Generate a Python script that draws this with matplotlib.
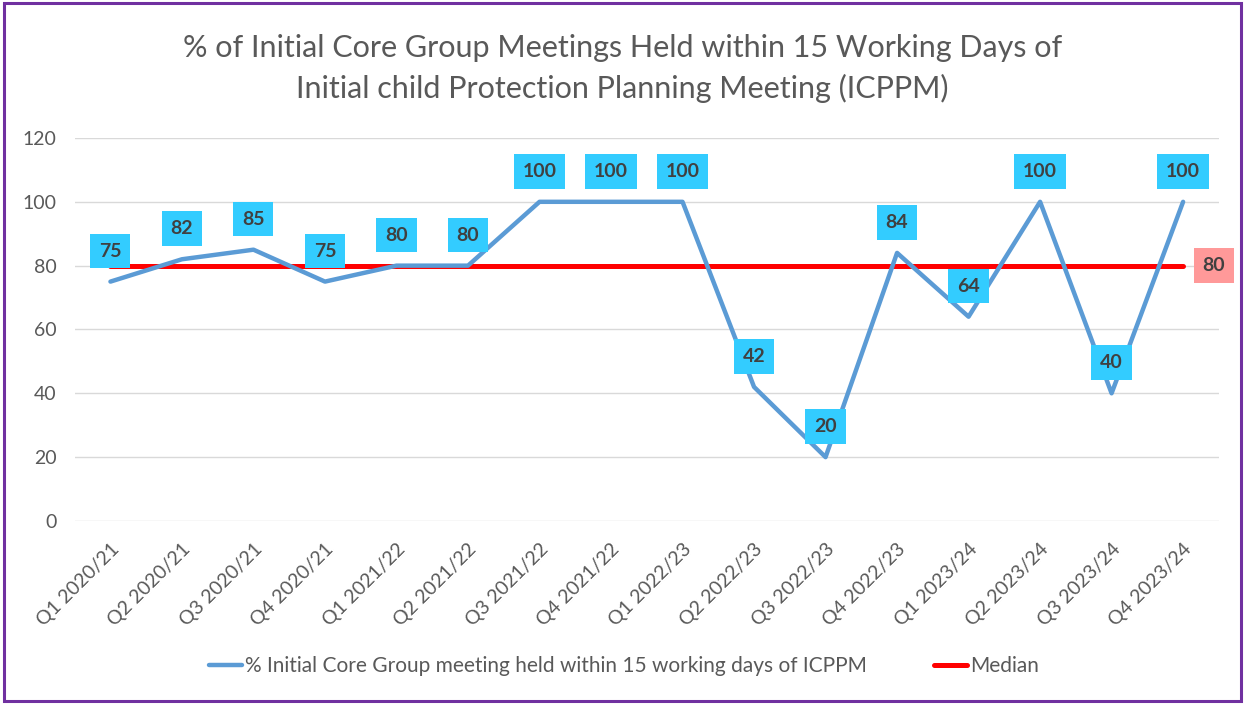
import matplotlib.pyplot as plt
from matplotlib.patches import Rectangle

quarters = ['Q1 2020/21', 'Q2 2020/21', 'Q3 2020/21', 'Q4 2020/21',
            'Q1 2021/22', 'Q2 2021/22', 'Q3 2021/22', 'Q4 2021/22',
            'Q1 2022/23', 'Q2 2022/23', 'Q3 2022/23', 'Q4 2022/23',
            'Q1 2023/24', 'Q2 2023/24', 'Q3 2023/24', 'Q4 2023/24']
pct_held = [75, 82, 85, 75, 80, 80, 100, 100, 100, 42, 20, 84, 64, 100, 40, 100]
median = [80] * len(quarters)

plt.rcParams['font.family'] = ['Lato', 'DejaVu Sans']

fig = plt.figure(figsize=(12.45, 7.04), dpi=100)
ax = fig.add_axes([0.060, 0.26, 0.919, 0.544])

x = list(range(len(quarters)))
ax.plot(x, pct_held, color='#5B9BD5', lw=3.2, solid_capstyle='round',
        label='% Initial Core Group meeting held within 15 working days of ICPPM', zorder=3)
ax.plot(x, median, color='#FF0000', lw=3.6, solid_capstyle='round',
        label='Median', zorder=2)

for xi, v in zip(x, pct_held):
    ax.annotate(str(v), (xi, v), xytext=(0, 22), textcoords='offset points',
                ha='center', va='center', fontsize=14, fontweight='bold',
                color='#404040', zorder=5,
                bbox=dict(boxstyle='square,pad=0.45', fc='#33CCFF', ec='none'))

ax.annotate(str(median[-1]), (x[-1], median[-1]), xytext=(22, 0),
            textcoords='offset points', ha='center', va='center',
            fontsize=14, fontweight='bold', color='#404040', zorder=5,
            bbox=dict(boxstyle='square,pad=0.45', fc='#FF9999', ec='none'))

ax.set_xlim(-0.5, len(quarters) - 0.5)
ax.set_ylim(0, 120)
ax.set_yticks(range(0, 121, 20))
ax.set_xticks(x)
ax.set_xticklabels(quarters, rotation=45, ha='right', rotation_mode='anchor')
ax.tick_params(axis='both', length=0, labelsize=14, colors='#595959')
ax.tick_params(axis='x', pad=14)
ax.tick_params(axis='y', pad=13)
ax.grid(axis='y', color='#D9D9D9', lw=1)
ax.set_axisbelow(True)
for s in ax.spines.values():
    s.set_visible(False)

fig.text(0.5, 0.903, '% of Initial Core Group Meetings Held within 15 Working Days of\n'
         'Initial child Protection Planning Meeting (ICPPM)',
         ha='center', va='center', fontsize=22, color='#595959', linespacing=1.5)

ax.legend(loc='center', bbox_to_anchor=(0.48, -0.38), ncol=2, frameon=False,
          fontsize=15, labelcolor='#595959', handlelength=1.6, handletextpad=0.15,
          columnspacing=3.2)

fig.patches.append(Rectangle((0.003, 0.004), 0.994, 0.992, transform=fig.transFigure,
                             fill=False, ec='#7030A0', lw=2.2))

fig.savefig('out.png', dpi=100)
